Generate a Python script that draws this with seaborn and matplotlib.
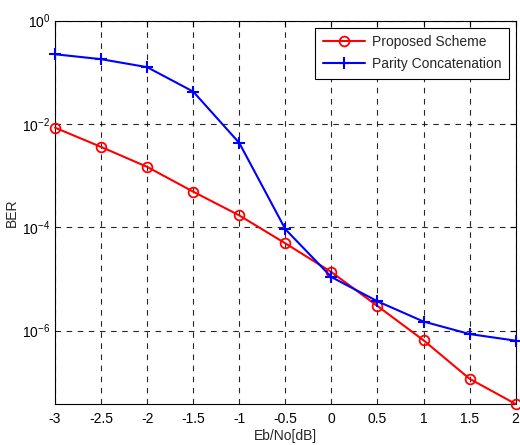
import numpy as np
import pandas as pd
import seaborn as sns
import matplotlib
matplotlib.use("Agg")
import matplotlib.pyplot as plt
from matplotlib.ticker import FixedLocator, FuncFormatter, NullLocator

ebno = [-3, -2.5, -2, -1.5, -1, -0.5, 0, 0.5, 1, 1.5, 2]
proposed = [8.5e-3, 3.6e-3, 1.48e-3, 4.9e-4, 1.7e-4, 4.9e-5, 1.36e-5, 3.0e-6, 6.5e-7, 1.17e-7, 3.8e-8]
parity = [0.224, 0.18, 0.126, 0.0424, 4.3e-3, 9.2e-5, 1.09e-5, 3.7e-6, 1.5e-6, 8.6e-7, 6.4e-7]
series_names = ["Proposed Scheme", "Parity Concatenation"]
xticks = [-3, -2.5, -2, -1.5, -1, -0.5, 0, 0.5, 1, 1.5, 2]
yticks = [1e0, 1e-2, 1e-4, 1e-6]

sns.set_style("white")
plt.rcParams['font.family'] = ['Liberation Sans', 'DejaVu Sans']
plt.rcParams['axes.unicode_minus'] = False
plt.rcParams['mathtext.fontset'] = 'custom'
plt.rcParams['mathtext.rm'] = 'Liberation Sans'
plt.rcParams['mathtext.it'] = 'Liberation Sans'

fs = 10
fig = plt.figure(figsize=(5.2, 4.45), dpi=100)
ax = fig.add_axes([0.1058, 0.0921, 0.9917 - 0.1058, 0.9535 - 0.0921])

sns.lineplot(x=ebno, y=proposed, ax=ax, color='red', lw=1.5, marker='o', ms=7,
             markerfacecolor='none', markeredgecolor='red', markeredgewidth=1.3,
             label=series_names[0], clip_on=False, zorder=3)
sns.lineplot(x=ebno, y=parity, ax=ax, color='blue', lw=1.5, marker='+', ms=8,
             markeredgecolor='blue', markerfacecolor='blue',
             markeredgewidth=1.5, label=series_names[1], clip_on=False, zorder=3)

ax.set_yscale('log')
ax.set_xlim(-3, 2)
ax.set_ylim(10 ** -7.42, 1)
ax.xaxis.set_major_locator(FixedLocator(xticks))
ax.set_xticklabels([f"{t:g}" for t in xticks])
ax.yaxis.set_major_locator(FixedLocator(yticks))
ax.yaxis.set_minor_locator(NullLocator())
ax.yaxis.set_major_formatter(FuncFormatter(lambda v, p: r"$10^{%d}$" % round(np.log10(v))))

ax.grid(True, which='major', color='black', linestyle=(0, (5, 5)), linewidth=0.8, alpha=0.85)
ax.tick_params(direction='in', top=True, right=True, length=4, width=0.8, labelsize=fs, colors='black')
ax.tick_params(axis='x', pad=6)
for s in ax.spines.values():
    s.set_color('black')
    s.set_linewidth(0.8)

ax.set_xlabel("Eb/No[dB]", fontsize=fs, labelpad=2)
ax.set_ylabel("BER", fontsize=fs, labelpad=2)

leg = ax.legend(loc='upper right', fontsize=fs, frameon=True, fancybox=False, edgecolor='black',
                framealpha=1, borderaxespad=0.5, handlelength=3.0, borderpad=0.55,
                labelspacing=0.55, handletextpad=0.5)
leg.get_frame().set_linewidth(0.8)

fig.savefig("out.png", dpi=100)
